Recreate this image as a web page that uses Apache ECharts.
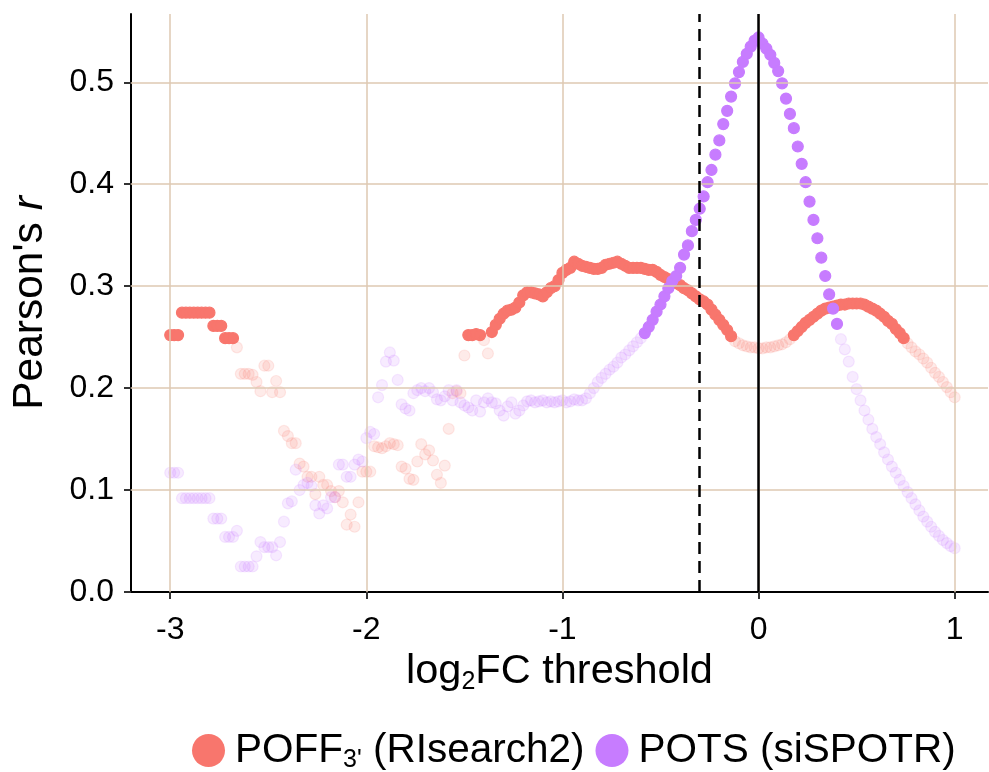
<!DOCTYPE html>
<html><head><meta charset="utf-8">
<script src="https://cdn.jsdelivr.net/npm/echarts@6/dist/echarts.min.js"></script>
<style>html,body{margin:0;padding:0;background:#fff}#c{width:989px;height:772px}</style>
</head><body><div id="c"></div>
<script>
// log2FC thresholds: -3 to 1 in steps of 0.02
const thresholds = Array.from({length: 201}, (_, i) => Math.round((-3 + i * 0.02) * 100) / 100);

// POFF3' (RIsearch2) Pearson's r, one per threshold
const poffValues = [
  0.252,0.252,0.252,0.274,0.274,0.274,0.274,0.274,0.274,0.274,
  0.274,0.261,0.261,0.261,0.249,0.249,0.249,0.240,0.214,0.214,
  0.214,0.213,0.206,0.197,0.222,0.222,0.196,0.207,0.196,0.158,
  0.153,0.146,0.146,0.126,0.123,0.113,0.113,0.096,0.113,0.105,
  0.105,0.099,0.093,0.099,0.088,0.066,0.076,0.064,0.088,0.118,
  0.118,0.118,0.143,0.142,0.141,0.143,0.146,0.145,0.144,0.123,
  0.121,0.111,0.110,0.128,0.145,0.135,0.139,0.129,0.115,0.107,
  0.124,0.160,0.195,0.197,0.195,0.232,0.252,0.252,0.253,0.252,
  0.247,0.234,0.255,0.262,0.268,0.273,0.276,0.277,0.279,0.284,
  0.291,0.294,0.294,0.293,0.292,0.290,0.294,0.298,0.300,0.306,
  0.313,0.316,0.318,0.324,0.322,0.320,0.319,0.318,0.317,0.317,
  0.318,0.321,0.322,0.323,0.324,0.322,0.320,0.318,0.318,0.318,
  0.318,0.317,0.316,0.316,0.314,0.311,0.309,0.307,0.305,0.303,
  0.301,0.298,0.296,0.293,0.290,0.287,0.285,0.282,0.277,0.272,
  0.267,0.262,0.257,0.251,0.246,0.244,0.242,0.241,0.240,0.240,
  0.239,0.239,0.240,0.240,0.241,0.242,0.243,0.245,0.248,0.252,
  0.256,0.260,0.264,0.267,0.270,0.273,0.276,0.278,0.279,0.280,
  0.281,0.282,0.282,0.283,0.283,0.283,0.283,0.282,0.280,0.278,
  0.276,0.273,0.270,0.266,0.263,0.258,0.254,0.249,0.244,0.240,
  0.236,0.233,0.229,0.225,0.220,0.215,0.211,0.206,0.201,0.196,
  0.191
];

// POTS (siSPOTR) Pearson's r, one per threshold
const potsValues = [
  0.117,0.117,0.117,0.092,0.092,0.092,0.092,0.092,0.092,0.092,
  0.092,0.072,0.072,0.072,0.054,0.054,0.054,0.060,0.025,0.025,
  0.025,0.025,0.035,0.049,0.044,0.044,0.044,0.036,0.049,0.069,
  0.087,0.089,0.120,0.100,0.105,0.107,0.104,0.085,0.077,0.085,
  0.082,0.093,0.093,0.125,0.125,0.113,0.113,0.125,0.130,0.128,
  0.151,0.157,0.155,0.191,0.203,0.226,0.235,0.227,0.208,0.184,
  0.180,0.178,0.195,0.198,0.200,0.197,0.200,0.196,0.189,0.188,
  0.192,0.198,0.188,0.198,0.186,0.183,0.181,0.178,0.188,0.177,
  0.186,0.190,0.186,0.185,0.178,0.173,0.182,0.186,0.175,0.178,
  0.183,0.187,0.188,0.186,0.187,0.188,0.186,0.187,0.186,0.187,
  0.188,0.186,0.187,0.189,0.188,0.188,0.190,0.195,0.200,0.206,
  0.210,0.214,0.218,0.221,0.225,0.230,0.233,0.237,0.241,0.245,
  0.249,0.254,0.260,0.267,0.275,0.282,0.290,0.298,0.305,0.310,
  0.318,0.331,0.340,0.354,0.365,0.376,0.388,0.402,0.414,0.429,
  0.443,0.459,0.472,0.486,0.499,0.510,0.520,0.528,0.535,0.541,
  0.544,0.538,0.533,0.527,0.519,0.511,0.499,0.484,0.469,0.455,
  0.437,0.420,0.402,0.383,0.365,0.347,0.328,0.310,0.292,0.278,
  0.263,0.248,0.238,0.226,0.211,0.199,0.188,0.178,0.169,0.160,
  0.152,0.145,0.137,0.130,0.123,0.117,0.110,0.104,0.098,0.092,
  0.086,0.080,0.074,0.069,0.064,0.059,0.055,0.051,0.048,0.045,
  0.043
];

// threshold ranges drawn at full opacity (others faded)
const poffHighlight = [[-3, -2.68], [-1.48, -1.42], [-1.36, -0.14], [0.18, 0.74]];
const potsHighlight = [[-0.58, 0.40]];

const xTicks = [-3, -2, -1, 0, 1];
const yTicks = [0, 0.1, 0.2, 0.3, 0.4, 0.5];
const seriesNames = ["POFF3' (RIsearch2)", "POTS (siSPOTR)"];
const solidLineAt = 0;
const dashedLineAt = -0.3;

const RED = '#F8766D', PURPLE = '#C77CFF', GRID = '#DEC8B2';
const FONT = 'Liberation Sans';

function inRanges(x, ranges) {
  return ranges.some(r => x >= r[0] - 1e-9 && x <= r[1] + 1e-9);
}
function buildData(values, ranges) {
  return thresholds.map((x, i) => ({
    value: [x, values[i]],
    itemStyle: { opacity: inRanges(x, ranges) ? 1 : 0.15 }
  }));
}

const subStyle = { fontSize: 25, fontFamily: FONT, color: '#000', padding: [20, 0, 0, 0] };

const chart = echarts.init(document.getElementById('c'), null, {renderer: 'canvas'});
chart.setOption({
  animation: false,
  backgroundColor: '#fff',
  grid: { left: 131, right: 1, top: 14, bottom: 180 },
  xAxis: {
    type: 'value', min: -3.2, max: 1.17,
    axisLine: { show: true, onZero: false, lineStyle: { color: '#000', width: 2 } },
    axisTick: { show: true, customValues: xTicks, length: 7, lineStyle: { color: '#333', width: 2 } },
    axisLabel: { customValues: xTicks, formatter: v => String(v), color: '#000', fontSize: 32, fontFamily: FONT, margin: 22 },
    splitLine: { show: false },
    name: 'log{sub|2}FC threshold', nameLocation: 'middle', nameGap: 53,
    nameTextStyle: { color: '#000', fontSize: 41.5, fontFamily: FONT, rich: { sub: subStyle } }
  },
  yAxis: {
    type: 'value', min: 0, max: 0.567,
    axisLine: { show: true, onZero: false, lineStyle: { color: '#000', width: 2 } },
    axisTick: { show: true, customValues: yTicks, length: 7, lineStyle: { color: '#333', width: 2 } },
    axisLabel: { customValues: yTicks, formatter: v => v.toFixed(1), color: '#000', fontSize: 32, fontFamily: FONT, margin: 17 },
    splitLine: { show: false },
    name: "Pearson's {it|r}", nameLocation: 'middle', nameRotate: 90, nameGap: 79,
    nameTextStyle: { color: '#000', fontSize: 42.5, fontFamily: FONT,
      rich: { it: { fontStyle: 'italic', fontSize: 42.5, fontFamily: FONT, color: '#000' } } }
  },
  legend: {
    data: [
      { name: seriesNames[0], itemStyle: { color: RED, opacity: 1, borderWidth: 0 } },
      { name: seriesNames[1], itemStyle: { color: PURPLE, opacity: 1, borderWidth: 0 } }
    ],
    left: 187, top: 725,
    icon: 'circle', itemWidth: 33, itemHeight: 33, itemGap: 11,
    formatter: name => name === seriesNames[0] ? "POFF{sub|3'} (RIsearch2)" : name,
    textStyle: { color: '#000', fontSize: 40.5, fontFamily: FONT, padding: [0, 0, 0, 5], rich: { sub: subStyle } }
  },
  series: [
    {
      type: 'line', data: [], z: 0, silent: true,
      markLine: {
        silent: true, symbol: ['none', 'none'], label: { show: false }, animation: false,
        lineStyle: { color: GRID, width: 1.5, type: 'solid' },
        data: xTicks.map(v => ({ xAxis: v })).concat(yTicks.filter(v => v > 0).map(v => ({ yAxis: v })))
      }
    },
    {
      name: seriesNames[0], type: 'scatter', z: 3, symbolSize: 11,
      itemStyle: { color: RED, borderColor: RED, borderWidth: 1.2 },
      data: buildData(poffValues, poffHighlight)
    },
    {
      name: seriesNames[1], type: 'scatter', z: 4, symbolSize: 11,
      itemStyle: { color: PURPLE, borderColor: PURPLE, borderWidth: 1.2 },
      data: buildData(potsValues, potsHighlight)
    },
    {
      type: 'line', data: [], z: 10, silent: true,
      markLine: {
        silent: true, symbol: ['none', 'none'], label: { show: false }, animation: false,
        data: [
          { xAxis: solidLineAt, lineStyle: { color: '#000', width: 2.5, type: 'solid' } },
          { xAxis: dashedLineAt, lineStyle: { color: '#000', width: 2.5, type: [12, 7] } }
        ]
      }
    }
  ]
});
</script>
</body></html>
